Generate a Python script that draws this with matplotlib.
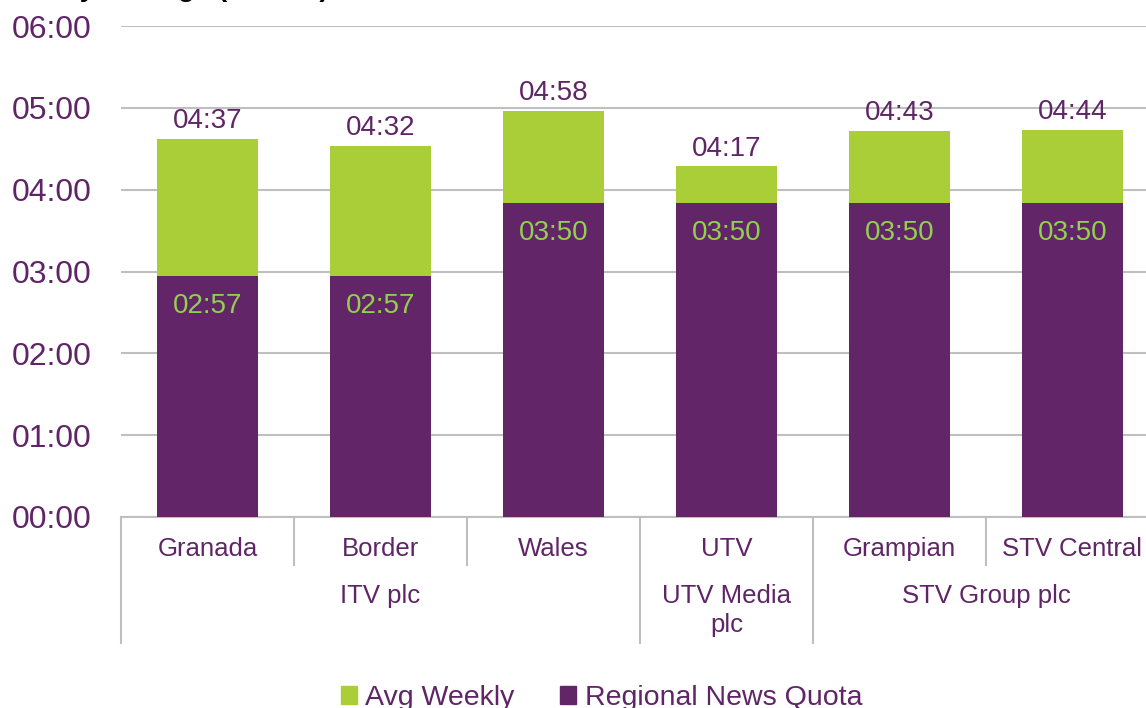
import matplotlib.pyplot as plt
from matplotlib.patches import Patch
from matplotlib.ticker import FuncFormatter, MultipleLocator

plt.rcParams['font.family'] = ['Liberation Sans', 'DejaVu Sans']

channels = ['Granada', 'Border', 'Wales', 'UTV', 'Grampian', 'STV Central']
groups = ['ITV plc', 'UTV Media\nplc', 'STV Group plc']
group_spans = [(0, 2), (3, 3), (4, 5)]
# minutes per week
quota = [177, 177, 230, 230, 230, 230]
avg_weekly = [277, 272, 298, 257, 283, 284]

purple = '#622567'
green = '#a9ce38'
text_col = '#5f2566'
grid_col = '#bfbfbf'


def hhmm(m, pos=None):
    m = int(round(m))
    return '%02d:%02d' % (m // 60, m % 60)


fig = plt.figure(figsize=(11.46, 7.08), dpi=100)
ax = fig.add_axes([121 / 1146, 191 / 708, 1038 / 1146, 491 / 708])

x = list(range(len(channels)))
extra = [a - q for a, q in zip(avg_weekly, quota)]
ax.bar(x, quota, width=0.58, color=purple, zorder=3)
ax.bar(x, extra, bottom=quota, width=0.58, color=green, zorder=3)

for i in x:
    ax.text(i, avg_weekly[i] + 13, hhmm(avg_weekly[i]), ha='center', va='center',
            fontsize=20, color=text_col)
    ax.text(i, quota[i] - 22, hhmm(quota[i]), ha='center', va='center',
            fontsize=20, color='#92d050')

ax.set_xlim(-0.5, 5.5)
ax.set_ylim(0, 360)
ax.yaxis.set_major_locator(MultipleLocator(60))
ax.yaxis.set_major_formatter(FuncFormatter(hhmm))
ax.tick_params(axis='y', length=0, pad=21, labelsize=23, labelcolor=text_col)
ax.set_xticks([])
ax.grid(axis='y', color=grid_col, linewidth=1.5, zorder=0)
for s in ['left', 'right', 'top']:
    ax.spines[s].set_visible(False)
ax.spines['bottom'].set_color(grid_col)
ax.spines['bottom'].set_linewidth(1.5)

trans = ax.get_xaxis_transform()
row1 = -48 / 491
row2 = -126 / 491
for b in [0.5, 1.5, 4.5]:
    ax.plot([b, b], [0, row1], transform=trans, color=grid_col, lw=1.5, clip_on=False)
for b in [-0.5, 2.5, 3.5, 5.5]:
    ax.plot([b, b], [0, row2], transform=trans, color=grid_col, lw=1.5, clip_on=False)

for i, name in enumerate(channels):
    ax.text(i, -32 / 491, name, transform=trans, ha='center', va='center',
            fontsize=18.5, color=text_col)
for name, (a, b) in zip(groups, group_spans):
    ax.text((a + b) / 2, -67 / 491, name, transform=trans, ha='center', va='top',
            fontsize=18.5, color=text_col, linespacing=1.25)

# title, mostly cut off at the top of the image
fig.text(0.0, 1 + 4 / 708, 'Weekly Average (hh:mm)', ha='left', va='baseline',
         fontsize=20, fontweight='bold', color='black')

handles = [Patch(color=green), Patch(color=purple)]
fig.legend(handles, ['Avg Weekly', 'Regional News Quota'], loc='center',
           bbox_to_anchor=(0.525, 1 - 698 / 708), ncol=2, frameon=False,
           fontsize=20.5, labelcolor=text_col, handlelength=0.55, handleheight=0.55,
           handletextpad=0.3, columnspacing=1.6)

fig.savefig('out.png', dpi=100)
